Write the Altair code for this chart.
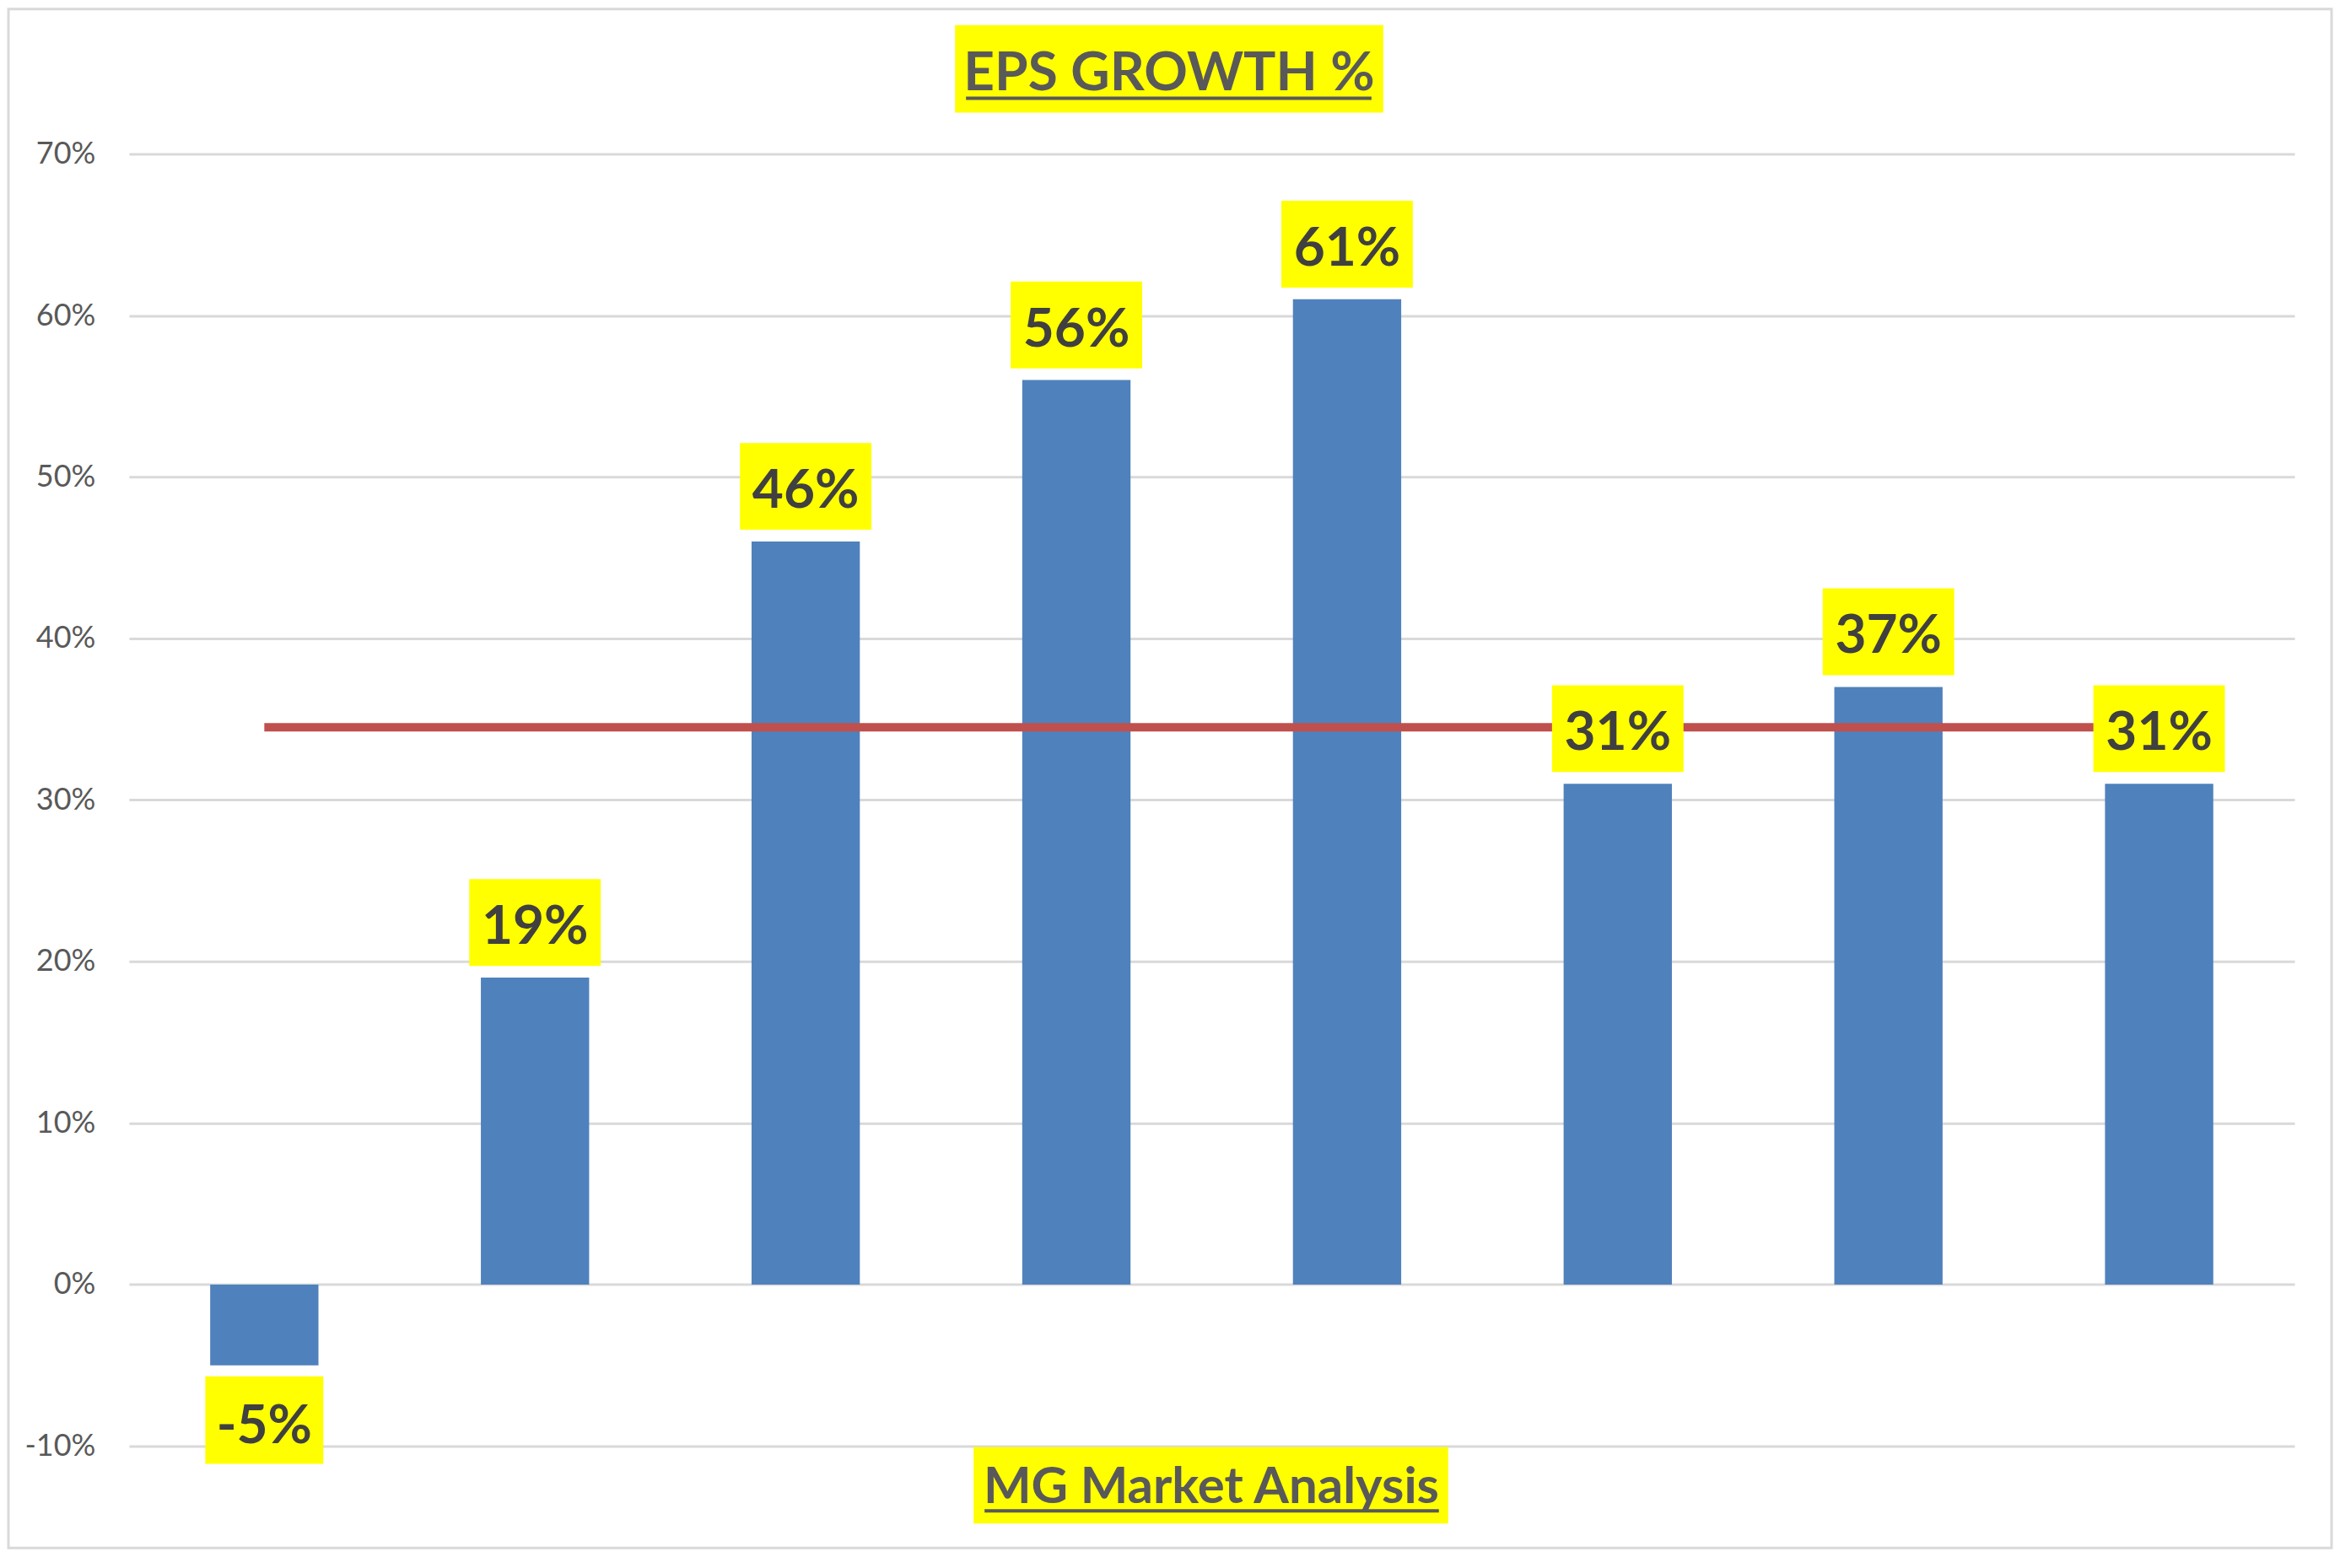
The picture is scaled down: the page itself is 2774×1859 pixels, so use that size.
import altair as alt
import pandas as pd

# ---- data ----
categories = ["P1", "P2", "P3", "P4", "P5", "P6", "P7", "P8"]
eps_growth = [-0.05, 0.19, 0.46, 0.56, 0.61, 0.31, 0.37, 0.31]
y_ticks = [-0.1, 0.0, 0.1, 0.2, 0.3, 0.4, 0.5, 0.6, 0.7]
title_text = "EPS GROWTH %"
caption_text = "MG Market Analysis"

df = pd.DataFrame({"cat": categories, "v": eps_growth})
deco = pd.DataFrame({"t": [0]})

W, H = 2569, 1533
FONT = "Lato"

xenc = alt.X("cat:N", sort=categories, axis=None,
             scale=alt.Scale(paddingInner=0.6, paddingOuter=0.3))
yscale = alt.Scale(domain=[-0.1, 0.7], nice=False, zero=False)
yaxis = alt.Axis(values=y_ticks, labelExpr="round(datum.value*100) + '%'",
                 grid=True, gridColor="#D9D9D9", gridWidth=3,
                 domain=False, ticks=False, labelPadding=40, title=None,
                 labelFont=FONT, labelFontSize=36, labelColor="#595959")


def yv(field):
    return alt.Y(field, scale=yscale, axis=yaxis, title=None)


base = alt.Chart(df).transform_calculate(label="round(datum.v*100) + '%'")

bars = base.mark_bar(color="#4F81BD").encode(x=xenc, y=yv("v:Q"))

avg_line = base.transform_joinaggregate(avg="mean(v)").mark_line(
    color="#C0504D", strokeWidth=10, strokeCap="butt"
).encode(x=xenc, y=yv("avg:Q"))

pos_box = base.transform_filter("datum.v >= 0").mark_bar(
    color="#FFFF00", width=156, yOffset=-14, y2Offset=-117
).encode(x=xenc, y=yv("v:Q"), y2="v")

neg_box = base.transform_filter("datum.v < 0").mark_bar(
    color="#FFFF00", width=140, yOffset=13, y2Offset=117
).encode(x=xenc, y=yv("v:Q"), y2="v")

pos_txt = base.transform_filter("datum.v >= 0").mark_text(
    font=FONT, fontWeight="bold", fontSize=64, color="#404040",
    align="center", baseline="alphabetic", dy=-40
).encode(x=xenc, y=yv("v:Q"), text="label:N")

neg_txt = base.transform_filter("datum.v < 0").mark_text(
    font=FONT, fontWeight="bold", fontSize=64, color="#404040",
    align="center", baseline="alphabetic", dy=92
).encode(x=xenc, y=yv("v:Q"), text="label:N")

# ---- decorations: title, caption, frame ----
dc = alt.Chart(deco)
title_box = dc.mark_rect(color="#FFFF00").encode(
    x=alt.value(980), x2=alt.value(1488), y=alt.value(-153), y2=alt.value(-49))
title_txt = dc.mark_text(text=title_text, font=FONT, fontWeight="bold", fontSize=64,
                         color="#595959", align="center", baseline="alphabetic").encode(
    x=alt.value(1234), y=alt.value(-76))
title_ul = dc.mark_rule(color="#595959", strokeWidth=4).encode(
    x=alt.value(993), x2=alt.value(1474), y=alt.value(-66))

cap_box = dc.mark_rect(color="#FFFF00").encode(
    x=alt.value(1002), x2=alt.value(1565), y=alt.value(1534), y2=alt.value(1625))
cap_txt = dc.mark_text(text=caption_text, font=FONT, fontWeight="bold", fontSize=60,
                       color="#595959", align="center", baseline="alphabetic").encode(
    x=alt.value(1284), y=alt.value(1601))
cap_ul = dc.mark_rule(color="#595959", strokeWidth=4).encode(
    x=alt.value(1015), x2=alt.value(1554), y=alt.value(1610))

frame = dc.mark_rect(fill="transparent", stroke="#D9D9D9", strokeWidth=3).encode(
    x=alt.value(-143), x2=alt.value(2613), y=alt.value(-172), y2=alt.value(1654))

chart = alt.layer(
    bars, avg_line, pos_box, neg_box, pos_txt, neg_txt,
    title_box, title_txt, title_ul, cap_box, cap_txt, cap_ul, frame
).properties(
    width=W, height=H,
    autosize=alt.AutoSizeParams(type="none"),
    padding={"left": 145, "top": 174, "right": 46, "bottom": 123},
    background="white",
).configure_view(stroke=None)

chart.save("out.html", embed_options={"renderer": "svg", "actions": False})
